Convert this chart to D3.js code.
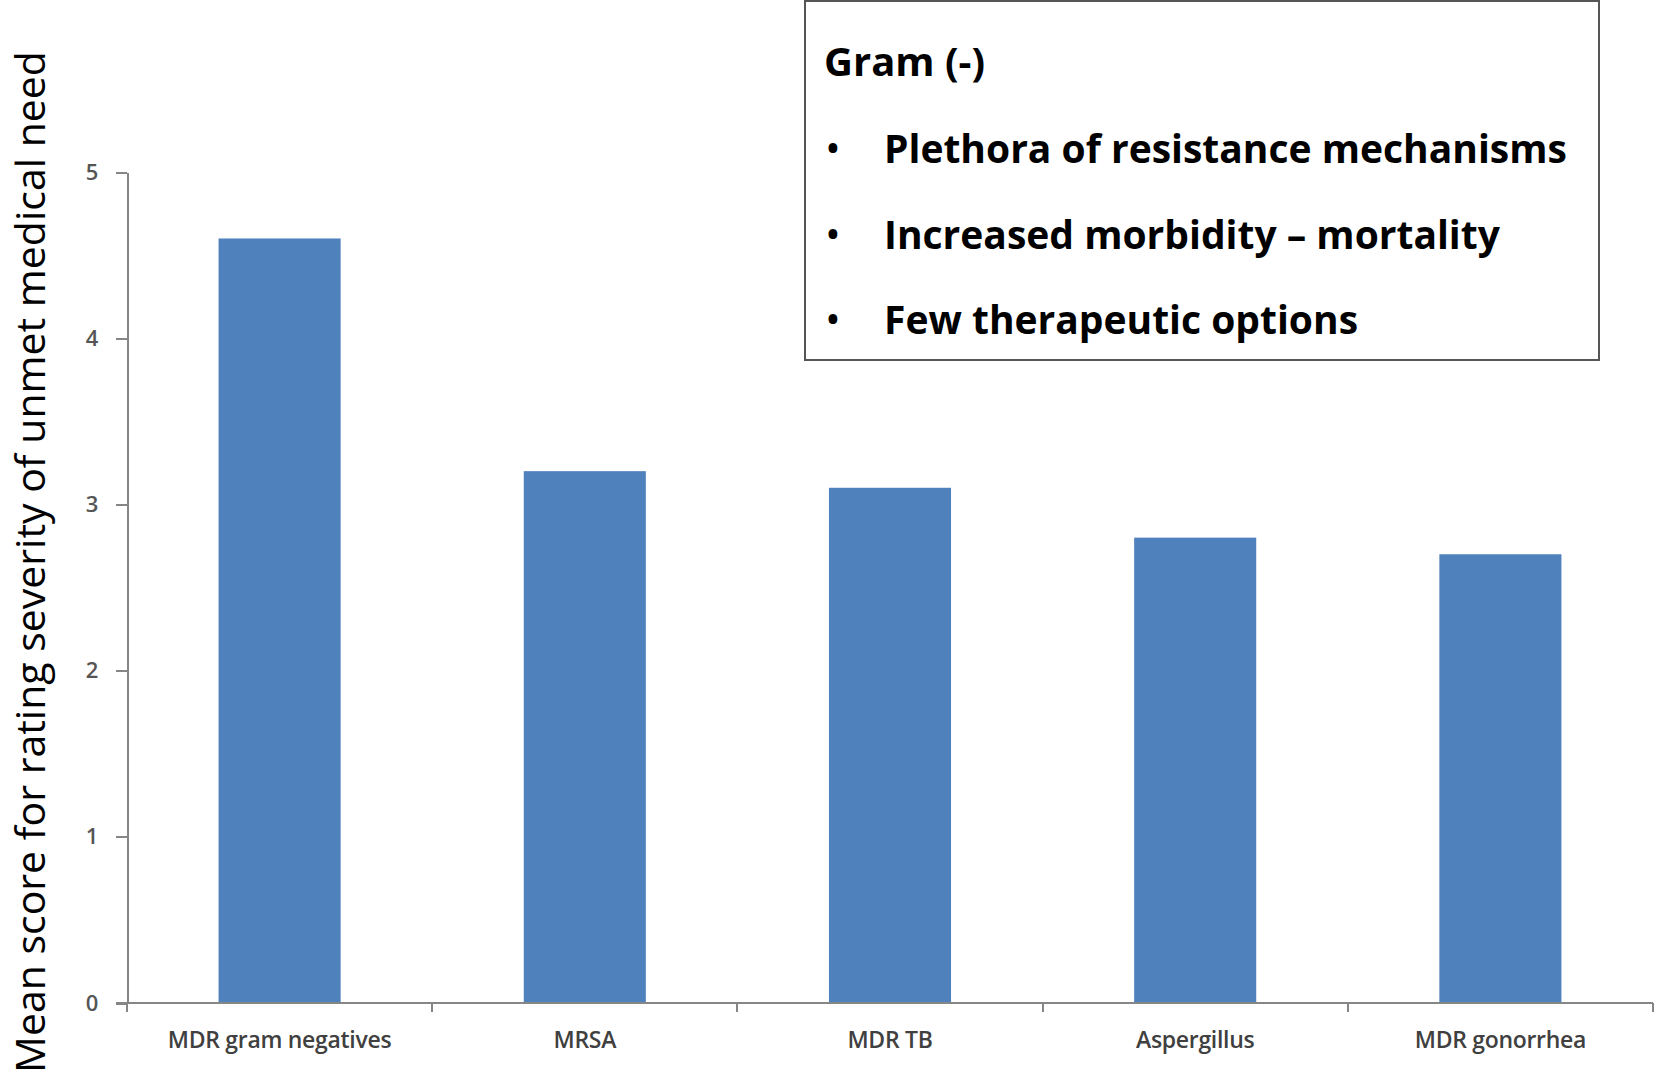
<!DOCTYPE html>
<html>
<head>
<meta charset="utf-8">
<style>
  body { margin: 0; background: #fff; }
  .axis path,
  .axis line {
    fill: none;
    stroke: #868686;
    stroke-width: 2px;
    shape-rendering: crispEdges;
  }
  .axis text {
    fill: #404040;
    font-family: "Open Sans", sans-serif;
  }
  .note text {
    font-family: "Open Sans", sans-serif;
    font-weight: bold;
    fill: #000;
  }
</style>
</head>
<body>
<svg width="1658" height="1089"></svg>
<script src="https://d3js.org/d3.v7.min.js"></script>
<script>
var categories = ["MDR gram negatives", "MRSA", "MDR TB", "Aspergillus", "MDR gonorrhea"];
var meanScores = [4.6, 3.2, 3.1, 2.8, 2.7];
var yTicks = [0, 1, 2, 3, 4, 5];
var yTitle = "Mean score for rating severity of unmet medical need";
var noteTitle = "Gram (-)";
var noteBullets = ["Plethora of resistance mechanisms", "Increased morbidity \u2013 mortality", "Few therapeutic options"];

var data = categories.map(function(c, i) { return {name: c, value: meanScores[i]}; });

var plotLeft = 127, plotRight = 1653, plotTop = 172, plotBottom = 1003;

var svg = d3.select("svg");

var x = d3.scaleBand()
    .domain(categories)
    .range([plotLeft, plotRight])
    .paddingInner(0.6)
    .paddingOuter(0.3);

var y = d3.scaleLinear()
    .domain([0, 5])
    .range([plotBottom, plotTop]);

// bars
svg.append("g")
  .selectAll("rect")
  .data(data)
  .enter().append("rect")
    .attr("x", function(d) { return x(d.name); })
    .attr("y", function(d) { return y(d.value); })
    .attr("width", x.bandwidth())
    .attr("height", function(d) { return y(0) - y(d.value); })
    .attr("fill", "#4f81bd");

// y axis
var yAxis = svg.append("g")
    .attr("class", "axis")
    .attr("transform", "translate(" + plotLeft + ",0)")
    .call(d3.axisLeft(y).tickValues(yTicks).tickFormat(d3.format("d"))
      .tickSize(11).tickPadding(22).tickSizeOuter(0));
yAxis.selectAll("text")
    .style("font-size", "22px")
    .style("font-weight", "600")
    .style("fill", "#555")
    .attr("text-anchor", "middle")
    .attr("dx", "-2");

// x axis: ticks sit on the category boundaries
var boundaries = d3.range(categories.length + 1).map(function(i) {
  return plotLeft + i * (plotRight - plotLeft) / categories.length;
});
var xAxis = svg.append("g")
    .attr("class", "axis")
    .attr("transform", "translate(0," + plotBottom + ")");
xAxis.append("line")
    .attr("x1", plotLeft - 11).attr("x2", plotRight);
xAxis.selectAll(".bt")
  .data(boundaries)
  .enter().append("line")
    .attr("class", "bt")
    .attr("x1", function(d) { return d; })
    .attr("x2", function(d) { return d; })
    .attr("y1", 0).attr("y2", 9);
xAxis.selectAll(".lab")
  .data(categories)
  .enter().append("text")
    .attr("class", "lab")
    .attr("x", function(d) { return x(d) + x.bandwidth() / 2; })
    .attr("y", 45)
    .attr("text-anchor", "middle")
    .style("font-size", "23px")
    .style("font-weight", "600")
    .style("letter-spacing", "-0.3px")
    .text(function(d) { return d; });

// y title
svg.append("text")
    .attr("transform", "translate(45," + 562 + ") rotate(-90)")
    .attr("text-anchor", "middle")
    .style("font-family", "'Open Sans', sans-serif")
    .style("font-size", "41px")
    .style("fill", "#000")
    .text(yTitle);

// note box
var note = svg.append("g").attr("class", "note");
note.append("rect")
    .attr("x", 805).attr("y", 1)
    .attr("width", 794).attr("height", 359)
    .attr("fill", "#fff")
    .attr("stroke", "#555")
    .attr("stroke-width", 2);
note.append("text")
    .attr("x", 824).attr("y", 76)
    .style("font-size", "40px")
    .text(noteTitle);
var rows = note.selectAll(".row")
  .data(noteBullets)
  .enter().append("g")
    .attr("class", "row")
    .attr("transform", function(d, i) { return "translate(0," + (163 + i * 85.5) + ")"; });
rows.append("text")
    .attr("x", 825)
    .style("font-size", "42px")
    .style("font-weight", "normal")
    .text("\u2022");
rows.append("text")
    .attr("x", 884)
    .style("font-size", "39px")
    .text(function(d) { return d; });
</script>
</body>
</html>
